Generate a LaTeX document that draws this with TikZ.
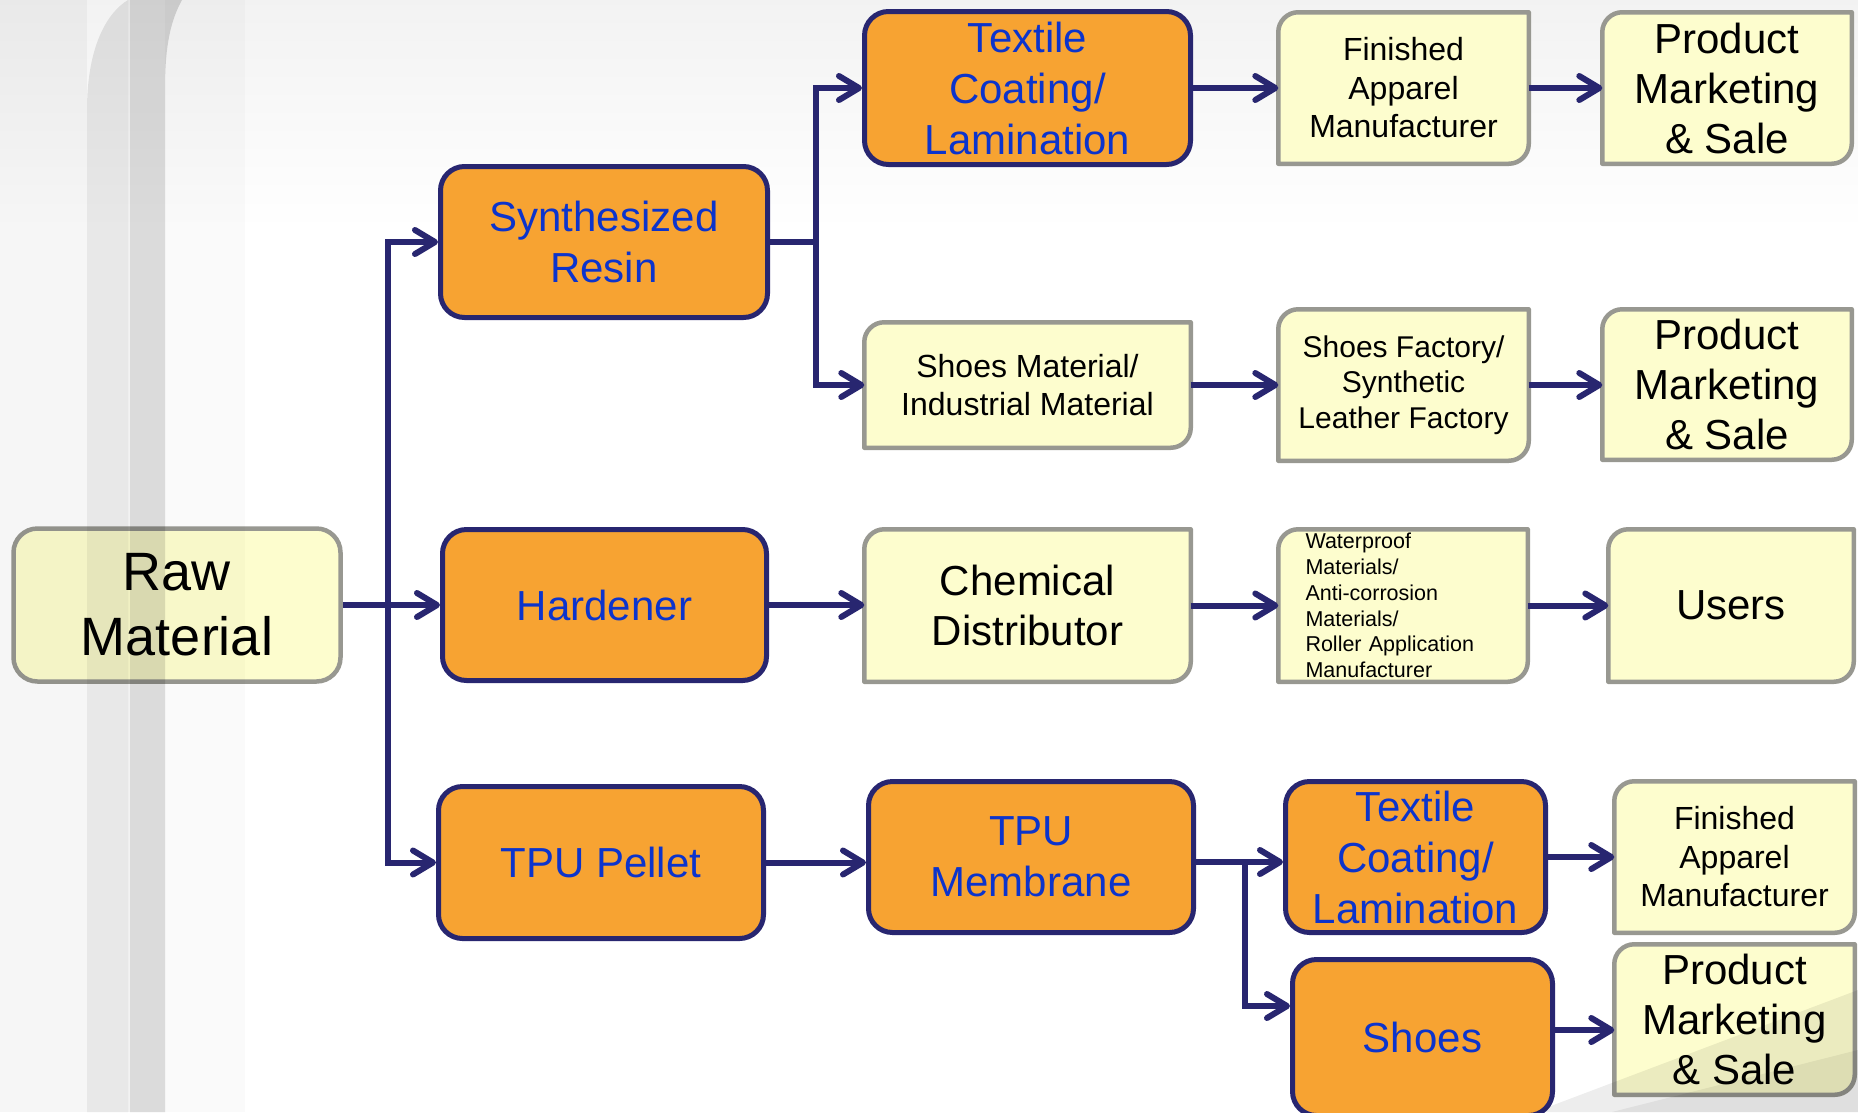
\documentclass[tikz,border=0pt]{standalone}
\usepackage{fontspec}
\setmainfont{Liberation Sans}
\usetikzlibrary{arrows.meta,calc}
\definecolor{navy}{RGB}{40,38,112}
\definecolor{orng}{RGB}{247,163,50}
\definecolor{btext}{RGB}{12,52,204}
\definecolor{ylw}{RGB}{253,253,206}
\definecolor{gborder}{RGB}{152,152,145}
\tikzset{
  obox/.style={draw=navy, line width=5pt, fill=orng, rounded corners=24pt,
    text=btext, align=center, inner sep=0pt, font=\fontsize{42}{51}\selectfont},
  yshape/.style={fill=ylw, draw=gborder, line width=4.5pt, line join=round},
  ytext/.style={inner sep=0pt, align=center, text=black},
  fbig/.style={font=\fontsize{42}{50}\selectfont},
  fmid/.style={font=\fontsize{32}{38.5}\selectfont},
  fsf/.style={font=\fontsize{30}{35.5}\selectfont},
  ftiny/.style={font=\fontsize{21.5}{25.7}\selectfont},
  conn/.style={draw=navy, line width=6pt, line join=miter},
  arr/.style={conn, -{Straight Barb[length=20pt,width=24pt,round]}},
}
% orange box: name, x1, y1, x2, y2, text
\newcommand\obx[6]{%
  \node[obox, minimum width={#4-#2-5}, minimum height={#5-#3-5}] (#1)
    at ({(#2+#4)/2},{(#3+#5)/2}) {#6};}
% yellow box with diagonal rounded corners: name, x1, y1, x2, y2, style, text
\newcommand\ybx[7]{%
  \pgfmathsetmacro\bxA{#2+2.25}\pgfmathsetmacro\byA{#3+2.25}%
  \pgfmathsetmacro\bxB{#4-2.25}\pgfmathsetmacro\byB{#5-2.25}%
  \draw[yshape] (\bxA,\byB) -- (\bxA,\byA+20)
     .. controls (\bxA,\byA+9) and (\bxA+9,\byA) .. (\bxA+20,\byA)
     -- (\bxB,\byA) -- (\bxB,\byB-20)
     .. controls (\bxB,\byB-9) and (\bxB-9,\byB) .. (\bxB-20,\byB) -- cycle;
  \node[ytext, #6, minimum width={#4-#2-5}, minimum height={#5-#3-5}] (#1)
    at ({(#2+#4)/2},{(#3+#5)/2}) {#7};}
\begin{document}
\begin{tikzpicture}[x=1pt,y=-1pt]
\useasboundingbox (0,0) rectangle (1858,1112);
\clip (0,0) rectangle (1858,1112);
\fill[white] (0,0) rectangle (1858,1112);
\shade[top color=black!5, bottom color=white] (0,0) rectangle (1858,230);

% raw material
\node[draw=gborder, line width=4.5pt, fill=ylw, rounded corners=24pt, ytext,
  font=\fontsize{54}{65}\selectfont, minimum width=327, minimum height=153]
  (raw) at (177,605) {Raw\\Material};

% orange boxes
\obx{synth}{438}{164}{770}{320}{Synthesized\\Resin}
\obx{hard}{440}{527}{769}{683}{Hardener}
\obx{pellet}{436}{784}{766}{941}{TPU Pellet}
\obx{tex1}{862}{9}{1193}{167}{Textile\\Coating/\\Lamination}
\obx{memb}{866}{779}{1196}{935}{TPU\\Membrane}
\obx{tex2}{1283}{779}{1548}{935}{Textile\\Coating/\\Lamination}
\obx{shoes}{1290}{957}{1555}{1118}{Shoes}

% yellow boxes
\ybx{smat}{862}{320}{1193}{450}{fmid}{Shoes Material/\\Industrial Material}
\ybx{chem}{862}{527}{1193}{684}{fbig}{Chemical\\Distributor}
\ybx{fin1}{1276}{10}{1531}{166}{fmid}{Finished\\Apparel\\Manufacturer}
\ybx{sfac}{1276}{307}{1531}{463}{fsf}{Shoes Factory/\\Synthetic\\Leather Factory}
\ybx{water}{1276}{527}{1530}{684}{ftiny, align=left, text width=195pt}{Waterproof\\Materials/\\Anti-corrosion\\Materials/\\Roller Application\\Manufacturer}
\ybx{prod1}{1600}{10}{1854}{166}{fbig}{Product\\Marketing\\\& Sale}
\ybx{prod2}{1600}{307}{1854}{462}{fbig}{Product\\Marketing\\\& Sale}
\ybx{users}{1606}{527}{1856}{684}{fbig}{Users}
\ybx{fin2}{1612}{779}{1857}{935}{fmid}{Finished\\Apparel\\Manufacturer}
\ybx{prod3}{1612}{942}{1857}{1097}{fbig}{Product\\Marketing\\\& Sale}

% connectors
\coordinate (tx) at (388,0);
\draw[arr] (raw.east) -- (hard.west);
\draw[arr] (tx |- pellet.west) -- (tx |- synth.west) -- (synth.west);
\draw[arr] (tx |- synth.west) -- (tx |- pellet.west) -- (pellet.west);

\coordinate (sx) at (816,0);
\draw[conn] (synth.east) -- (synth.east -| sx);
\draw[arr] (sx |- smat.west) -- (sx |- tex1.west) -- (tex1.west);
\draw[arr] (sx |- tex1.west) -- (sx |- smat.west) -- (smat.west);

\draw[arr] (tex1.east) -- (tex1.east -| fin1.west);
\draw[arr] (fin1.east) -- (fin1.east -| prod1.west);
\draw[arr] (smat.east) -- (smat.east -| sfac.west);
\draw[arr] (sfac.east) -- (sfac.east -| prod2.west);
\draw[arr] (hard.east) -- (hard.east -| chem.west);
\draw[arr] (chem.east) -- (chem.east -| water.west);
\draw[arr] (water.east) -- (water.east -| users.west);
\draw[arr] (pellet.east) -- (pellet.east -| memb.west);

\coordinate (mj) at (1245,862);
\coordinate (mk) at (1245,1006);
\draw[arr] (memb.east |- mj) -- (tex2.west |- mj);
\draw[arr] (mj) -- (mk) -- (shoes.west |- mk);
\draw[arr] (tex2.east) -- (tex2.east -| fin2.west);
\coordinate (sk) at (0,1030);
\draw[arr] (shoes.east |- sk) -- (prod3.west |- sk);

% translucent page decorations on top
\fill[black, fill opacity=0.035] (0,0) rectangle (87,1112);
\fill[black, fill opacity=0.09] (87,1112) -- (87,110) .. controls (87,45) and (108,12) .. (128,0) -- (128,1112) -- cycle;
\fill[black, fill opacity=0.05] (128,0) rectangle (130,1112);
\fill[black, fill opacity=0.14] (130,1112) -- (130,0) -- (182,0) .. controls (168,25) and (165,55) .. (165,90) -- (165,1112) -- cycle;
\fill[black, fill opacity=0.02] (165,0) rectangle (245,1112);
\fill[black, fill opacity=0.07] (1535,1112) -- (1858,990) -- (1858,1112) -- cycle;
\fill[black, fill opacity=0.06] (1612,1112) -- (1858,1050) -- (1858,1112) -- cycle;
\end{tikzpicture}
\end{document}
